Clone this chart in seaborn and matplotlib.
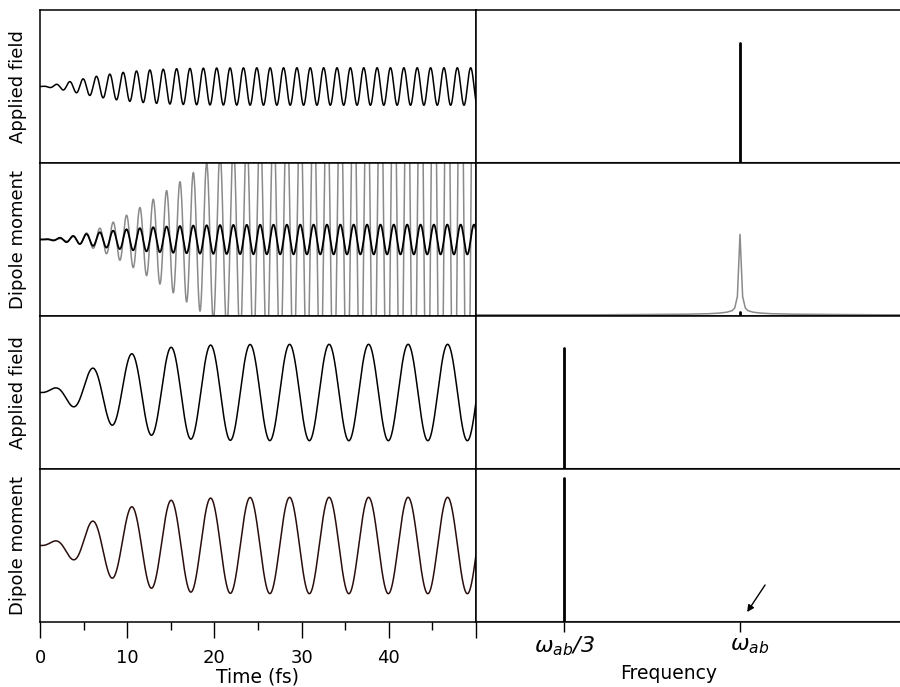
import numpy as np
import pandas as pd
import matplotlib
matplotlib.use("Agg")
import matplotlib.pyplot as plt
from matplotlib.ticker import FixedLocator
import seaborn as sns

sns.set_theme(style="ticks")
plt.rcParams["font.family"] = ["DejaVu Sans"]
plt.rcParams["mathtext.fontset"] = "dejavusans"
plt.rcParams["text.color"] = "black"
plt.rcParams["axes.labelcolor"] = "black"
plt.rcParams["xtick.color"] = "black"
plt.rcParams["xtick.labelcolor"] = "black"

# ---------------- data ----------------
time_range_fs = [0, 50]
time_major_ticks = [0, 10, 20, 30, 40, 50]
time_tick_labels = ["0", "10", "20", "30", "40", ""]
time_minor_ticks = [5, 15, 25, 35, 45]

freq_range = [0, 1.606]          # in units of omega_ab
freq_ticks = [1 / 3, 1.0]
freq_label_math = [r"$\omega_{ab}$", r"$\omega_{ab}$"]
freq_label_suffix = ["/3", ""]
freq_label_x = [1 / 3, 1.036]

row_labels = ["Applied field", "Dipole moment", "Applied field", "Dipole moment"]

# carrier / envelope parameters
resonant_period_fs = 1.533
offres_period_fs = 4.53
ramp_tau_field_fs = 7.6
ramp_tau_dipole_fs = 9.0
ramp_power = 1.5

res_field_amp = 0.245
res_field_phase = 0.20
res_dip_amp = 0.195
res_dip_phase = -1.36
res_dip_growth = 0.081           # resonant (grey) dipole growth per fs
res_dip_growth_phase = -1.36

off_field_amp = 0.63
off_field_phase = -0.43
off_dip_amp = 0.63
off_dip_phase = -0.43

# spectra
spec_res_field_freq = [1.0]
spec_res_field_height = [0.78]
spec_res_dip_black_height = [0.02]
spec_grey_offsets = [-0.55, -0.35, -0.2, -0.12, -0.08, -0.05, -0.03, -0.02, -0.01, 0.0,
                     0.01, 0.02, 0.03, 0.05, 0.08, 0.12, 0.2, 0.35, 0.55]
spec_grey_values = [0.0, 0.002, 0.004, 0.007, 0.011, 0.017, 0.027, 0.045, 0.12, 0.53,
                    0.12, 0.045, 0.027, 0.017, 0.011, 0.007, 0.004, 0.002, 0.0]
spec_off_field_freq = [1 / 3]
spec_off_field_height = [0.79]
spec_off_dip_freq = [1 / 3]
spec_off_dip_height = [0.94]

# ---------------- build series ----------------
t = np.linspace(time_range_fs[0], time_range_fs[1], 6001)


def ramp(tt, tau):
    return 1 - np.exp(-(tt / tau) ** ramp_power)


env_f = ramp(t, ramp_tau_field_fs)
env_d = ramp(t, ramp_tau_dipole_fs)
w_res = 2 * np.pi / resonant_period_fs
w_off = 2 * np.pi / offres_period_fs

res_field = res_field_amp * env_f * np.sin(w_res * t + res_field_phase)
res_dip = res_dip_amp * env_d * np.sin(w_res * t + res_dip_phase)
cum_env = np.concatenate([[0], np.cumsum(0.5 * (env_f[1:] + env_f[:-1]) * np.diff(t))])
res_dip_grey = res_dip_growth * cum_env * np.sin(w_res * t + res_dip_growth_phase)
off_field = off_field_amp * env_f * np.sin(w_off * t + off_field_phase)
off_dip = off_dip_amp * env_f * np.sin(w_off * t + off_dip_phase)


def spike(freqs, heights):
    xs, ys = [], []
    for f, h in zip(freqs, heights):
        xs += [f, f]
        ys += [0.0, h]
    return pd.DataFrame({"f": xs, "a": ys})


baseline_df = pd.DataFrame({"f": freq_range, "a": [0.0, 0.0]})
grey_df = pd.DataFrame({
    "f": [freq_range[0]] + [1.0 + o for o in spec_grey_offsets] + [freq_range[1]],
    "a": [0.0] + spec_grey_values + [0.0],
})

# ---------------- figure ----------------
fig = plt.figure(figsize=(9, 6.87), dpi=100)
gs = fig.add_gridspec(4, 2, left=40 / 900, right=1.0, top=1 - 10 / 687,
                      bottom=1 - 622 / 687, wspace=0, hspace=0,
                      width_ratios=[436, 424])
axL = [fig.add_subplot(gs[i, 0]) for i in range(4)]
axR = [fig.add_subplot(gs[i, 1]) for i in range(4)]

lw_t = 1.1
kw = dict(estimator=None, sort=False, legend=False)

sns.lineplot(x=t, y=res_field, ax=axL[0], color="black", linewidth=lw_t, **kw)
sns.lineplot(x=t, y=res_dip_grey, ax=axL[1], color="#8a8a8a", linewidth=lw_t, **kw)
sns.lineplot(x=t, y=res_dip, ax=axL[1], color="black", linewidth=lw_t + 0.2, **kw)
sns.lineplot(x=t, y=off_field, ax=axL[2], color="black", linewidth=lw_t, **kw)
sns.lineplot(x=t, y=off_dip, ax=axL[3], color="#2a0d0d", linewidth=lw_t, **kw)

for ax in [axR[0], axR[2], axR[3]]:
    sns.lineplot(data=baseline_df, x="f", y="a", ax=ax, color="#555555", linewidth=0.8, **kw)
d = spike(spec_res_field_freq, spec_res_field_height)
sns.lineplot(data=d, x="f", y="a", ax=axR[0], color="black", linewidth=2.0, **kw)
sns.lineplot(data=grey_df, x="f", y="a", ax=axR[1], color="#8a8a8a", linewidth=1.1, **kw)
d = spike([1.0], spec_res_dip_black_height)
sns.lineplot(data=d, x="f", y="a", ax=axR[1], color="black", linewidth=2.0, **kw)
d = spike(spec_off_field_freq, spec_off_field_height)
sns.lineplot(data=d, x="f", y="a", ax=axR[2], color="black", linewidth=2.0, **kw)
d = spike(spec_off_dip_freq, spec_off_dip_height)
sns.lineplot(data=d, x="f", y="a", ax=axR[3], color="black", linewidth=2.0, **kw)

for i, ax in enumerate(axL):
    ax.set_xlim(*time_range_fs)
    ax.set_ylim(-1, 1)
    ax.set_yticks([])
    ax.set_ylabel(row_labels[i], fontsize=13, labelpad=9)
    ax.set_xlabel("")
    for s in ax.spines.values():
        s.set_visible(True)
        s.set_linewidth(1.1)
        s.set_color("black")
    if i < 3:
        ax.set_xticks([])
    else:
        ax.xaxis.set_major_locator(FixedLocator(time_major_ticks))
        ax.set_xticklabels(time_tick_labels, fontsize=13)
        ax.xaxis.set_minor_locator(FixedLocator(time_minor_ticks))
        ax.tick_params(axis="x", which="major", direction="out", length=11.3,
                       width=1.0, color="black", pad=8)
        ax.tick_params(axis="x", which="minor", direction="out", length=5.8,
                       width=1.0, color="black", bottom=True)
        ax.set_xlabel("Time (fs)", fontsize=13.5, labelpad=0.5)

for i, ax in enumerate(axR):
    ax.set_xlim(*freq_range)
    ax.set_ylim(-0.008, 1.0)
    ax.set_yticks([])
    ax.set_ylabel("")
    ax.set_xlabel("")
    for s in ax.spines.values():
        s.set_visible(True)
        s.set_linewidth(1.1)
        s.set_color("black")
    ax.spines["right"].set_visible(False)
    if i < 3:
        ax.set_xticks([])
    else:
        ax.set_xticks(freq_ticks)
        ax.set_xticklabels(["", ""])
        ax.tick_params(axis="x", direction="out", length=7, width=1.0, color="black")
        tr = ax.get_xaxis_transform()
        for x, m, s in zip(freq_label_x, freq_label_math, freq_label_suffix):
            ax.text(x, -0.157, m + s, transform=tr, ha="center", va="center",
                    fontsize=16, fontstyle="italic")
        ax.text(0.455, -0.335, "Frequency", transform=ax.transAxes, ha="center",
                va="center", fontsize=13.5)
        ax.annotate("", xy=(1.027, 0.065), xytext=(1.095, 0.242),
                    xycoords=tr, textcoords=tr,
                    arrowprops=dict(arrowstyle="-|>", color="black", lw=1.0,
                                    mutation_scale=10, shrinkA=0, shrinkB=0))

fig.savefig("out.png", dpi=100)
